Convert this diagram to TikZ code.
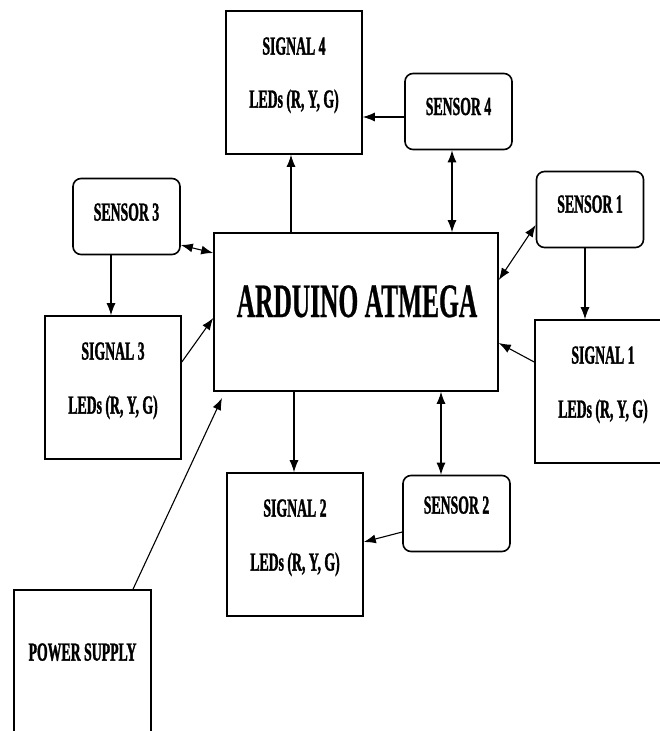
\documentclass[tikz,border=0pt]{standalone}
\usepackage{fontspec}
\newfontfamily\diagfont{Liberation Serif Bold}[FakeStretch=0.53,FakeBold=1.2]
\newfontfamily\diagbigfont{Liberation Serif Bold}[FakeStretch=0.53,FakeBold=0.5]
\usetikzlibrary{arrows.meta}
\tikzset{
  box/.style={draw, line width=1.6pt, inner sep=0pt},
  sigbox/.style={box, minimum width=136pt, minimum height=143pt},
  senbox/.style={box, rounded corners=8pt, minimum width=107pt, minimum height=76pt},
  txt/.style={inner sep=0pt, anchor=base, font=\diagfont\fontsize{26}{28}\selectfont},
  bigtxt/.style={inner sep=0pt, anchor=base, font=\diagbigfont\fontsize{48}{52}\selectfont},
  arr/.style={line width=1.1pt, -{Latex[length=12pt,width=9pt]}},
  darr/.style={line width=1.1pt, {Latex[length=12pt,width=9pt]}-{Latex[length=12pt,width=9pt]}}
}
\begin{document}
\begin{tikzpicture}[x=1pt,y=-1pt]
\useasboundingbox (0,0) rectangle (660,731);
\fill[white] (0,0) rectangle (660,731);
\clip (0,0) rectangle (660,731);
% boxes
\node[sigbox] (sig4) at (294,82.5) {};
\node[txt] (sig4a) at (294,54.6) {SIGNAL 4};
\node[txt] (sig4b) at (294,107.6) {LEDs (R, Y, G)};

\node[senbox] (sen4) at (458.5,111.5) {};
\node[txt] (sen4a) at (458.5,115) {SENSOR 4};

\node[senbox] (sen3) at (126.5,216.5) {};
\node[txt] (sen3a) at (126.5,220.6) {SENSOR 3};

\node[senbox] (sen1) at (590,209.5) {};
\node[txt] (sen1a) at (590,212.6) {SENSOR 1};

\node[box, minimum width=284pt, minimum height=158pt] (ard) at (356,312) {};
\node[bigtxt] (arda) at (357,317) {ARDUINO ATMEGA};

\node[sigbox] (sig3) at (113,387.5) {};
\node[txt] (sig3a) at (113,359.6) {SIGNAL 3};
\node[txt] (sig3b) at (113,413.6) {LEDs (R, Y, G)};

\node[sigbox] (sig1) at (603,391.5) {};
\node[txt] (sig1a) at (603,363.6) {SIGNAL 1};
\node[txt] (sig1b) at (603,417.6) {LEDs (R, Y, G)};

\node[sigbox] (sig2) at (295,544.5) {};
\node[txt] (sig2a) at (295,516.6) {SIGNAL 2};
\node[txt] (sig2b) at (295,570.6) {LEDs (R, Y, G)};

\node[senbox] (sen2) at (456.5,513.5) {};
\node[txt] (sen2a) at (456.5,513.6) {SENSOR 2};

\node[box, minimum width=137pt, minimum height=150pt] (pow) at (82.5,665) {};
\node[txt] (powa) at (82.5,660.6) {POWER SUPPLY};

\coordinate (powend) at (222,398);

% connectors
\draw[arr] (sen4.west |- 0,117) -- (sig4.east |- 0,117);
\draw[darr] (sen4.south -| 452,0) -- (ard.north -| 452,0);
\draw[arr] (ard.north -| 291,0) -- (sig4.south -| 291,0);
\draw[darr] (sen3.east |- 0,245) -- (ard.west |- 0,253);
\draw[arr] (sen3.south -| 111,0) -- (sig3.north -| 111,0);
\draw[arr] (sig3.east |- 0,362) -- (ard.west |- 0,318);
\draw[darr] (sen1.west |- 0,225) -- (ard.east |- 0,280);
\draw[arr] (sen1.south -| 585,0) -- (sig1.north -| 585,0);
\draw[arr] (sig1.west |- 0,362) -- (ard.east |- 0,343);
\draw[arr] (ard.south -| 294,0) -- (sig2.north -| 294,0);
\draw[darr] (ard.south -| 441,0) -- (sen2.north -| 441,0);
\draw[arr] (sen2.west |- 0,532) -- (sig2.east |- 0,542);
\draw[arr] (pow.north -| 133,0) -- (powend);
\end{tikzpicture}
\end{document}
